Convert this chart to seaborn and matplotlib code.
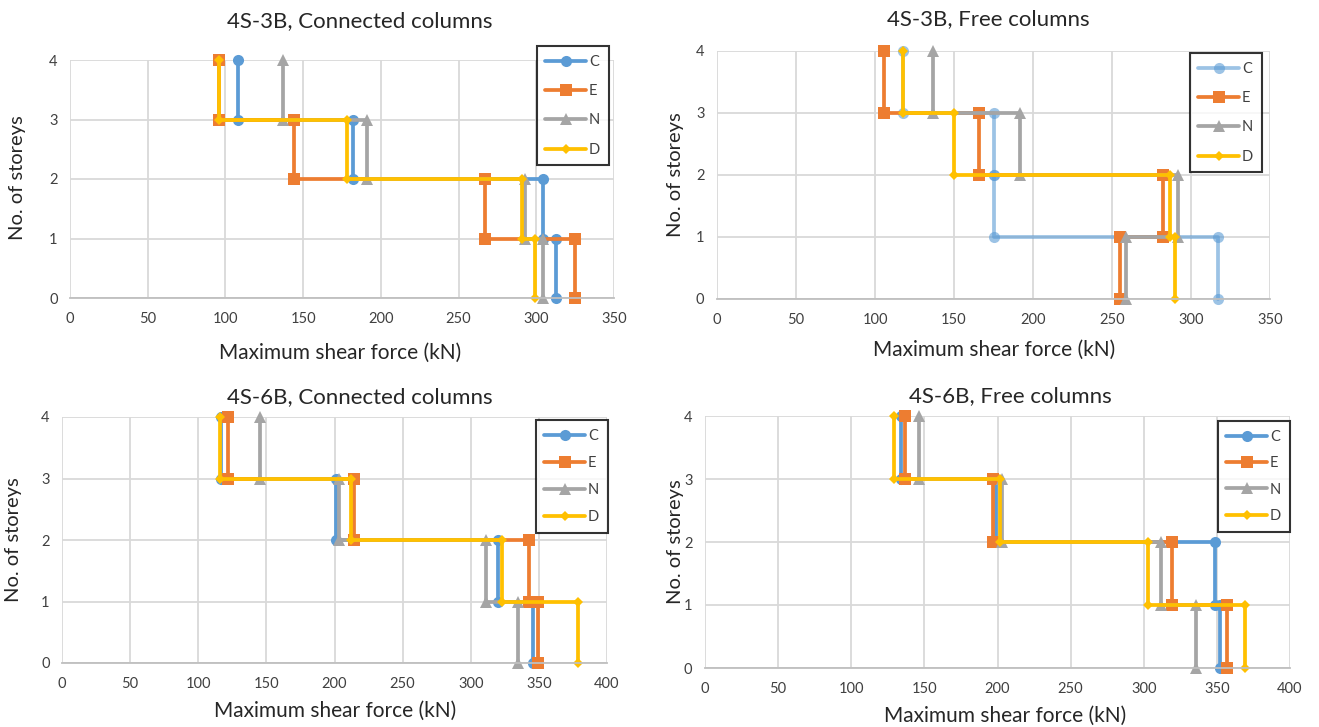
import matplotlib
matplotlib.use("Agg")
import matplotlib.pyplot as plt
import seaborn as sns
import pandas as pd

# Maximum shear force (kN) per storey, listed from storey 4 down to storey 1
series_names = ["C", "E", "N", "D"]

conn_3b = {"C": [108, 182, 304, 313],
           "E": [96, 144, 267, 325],
           "N": [137, 191, 293, 304],
           "D": [96, 178, 291, 299]}

free_3b = {"C": [118, 175, 175, 317],
           "E": [106, 166, 282, 255],
           "N": [137, 192, 292, 259],
           "D": [118, 150, 287, 290]}

conn_6b = {"C": [117, 201, 320, 346],
           "E": [122, 214, 343, 349],
           "N": [145, 203, 311, 335],
           "D": [116, 212, 323, 379]}

free_6b = {"C": [134, 199, 349, 352],
           "E": [137, 197, 319, 357],
           "N": [146, 203, 312, 336],
           "D": [129, 202, 303, 369]}

titles = ["4S-3B, Connected columns", "4S-3B, Free columns",
          "4S-6B, Connected columns", "4S-6B, Free columns"]
storeys = [4, 3, 2, 1]

colors = {"C": "#5B9BD5", "E": "#ED7D31", "N": "#A5A5A5", "D": "#FFC000"}
markers = {"C": "o", "E": "s", "N": "^", "D": "D"}
msizes = {"C": 8, "E": 8, "N": 8.5, "D": 5.5}

sns.set_theme(style="white")
plt.rcParams["font.family"] = ["Lato", "DejaVu Sans"]

W, H = 1319, 727
fig = plt.figure(figsize=(W / 100, H / 100), dpi=100)


def px_axes(left, right, top, bottom):
    return fig.add_axes([left / W, 1 - bottom / H, (right - left) / W, (bottom - top) / H])


def step_frame(values):
    xs, ys = [], []
    for v, s in zip(values, storeys):
        xs += [v, v]
        ys += [s, s - 1]
    return pd.DataFrame({"force": xs, "storey": ys})


panels = [
    dict(data=conn_3b, box=(70, 614, 60, 298), xmax=350, title_xy=(360, 21),
         xlabel_xy=(340, 353), ylabel_xy=(18, 178), legend=(609, 46), c_alpha=1.0,
         spacing=1.05),
    dict(data=free_3b, box=(717, 1270, 51, 299), xmax=350, title_xy=(988, 19),
         xlabel_xy=(994, 350), ylabel_xy=(676, 175), legend=(1262, 53), c_alpha=0.6,
         spacing=1.05),
    dict(data=conn_6b, box=(62, 607, 417, 663), xmax=400, title_xy=(360, 397),
         xlabel_xy=(335, 711), ylabel_xy=(14, 540), legend=(608, 420), c_alpha=1.0,
         spacing=0.9),
    dict(data=free_6b, box=(705, 1290, 416, 668), xmax=400, title_xy=(1010, 396),
         xlabel_xy=(1005, 716), ylabel_xy=(676, 542), legend=(1290, 421), c_alpha=1.0,
         spacing=0.85),
]

for p, title in zip(panels, titles):
    ax = px_axes(*p["box"])
    for name in series_names:
        df = step_frame(p["data"][name])
        alpha = p["c_alpha"] if name == "C" else 1.0
        sns.lineplot(data=df, x="force", y="storey", sort=False, estimator=None,
                     color=colors[name], marker=markers[name], markersize=msizes[name],
                     markeredgewidth=0, linewidth=2.7, alpha=alpha, label=name, ax=ax,
                     clip_on=False)
    ax.set_xlim(0, p["xmax"])
    ax.set_ylim(0, 4)
    ax.set_xticks(range(0, p["xmax"] + 1, 50))
    ax.set_yticks(range(0, 5))
    ax.grid(True, color="#D9D9D9", linewidth=1.3)
    ax.set_axisbelow(True)
    for side in ["top", "right", "left"]:
        ax.spines[side].set_visible(False)
    ax.spines["bottom"].set_color("#BFBFBF")
    ax.spines["bottom"].set_linewidth(1.3)
    ax.tick_params(axis="both", labelsize=10.5, colors="#404040", length=0, pad=9)
    ax.tick_params(axis="x", pad=10)
    ax.set_xlabel("")
    ax.set_ylabel("")

    fig.text(p["title_xy"][0] / W, 1 - p["title_xy"][1] / H, title, ha="center",
             va="center", fontsize=16, color="#262626")
    fig.text(p["xlabel_xy"][0] / W, 1 - p["xlabel_xy"][1] / H, "Maximum shear force (kN)",
             ha="center", va="center", fontsize=15, color="#262626")
    fig.text(p["ylabel_xy"][0] / W, 1 - p["ylabel_xy"][1] / H, "No. of storeys",
             ha="center", va="center", rotation=90, fontsize=14.5, color="#262626")

    leg = ax.legend(loc="upper right", bbox_to_anchor=(p["legend"][0] / W, 1 - p["legend"][1] / H),
                    bbox_transform=fig.transFigure, frameon=True, fancybox=False,
                    edgecolor="black", fontsize=10.5, handlelength=2.8,
                    labelspacing=p["spacing"], borderpad=0.6, handletextpad=0.2,
                    borderaxespad=0, numpoints=1)
    leg.get_frame().set_linewidth(1.5)
    for t in leg.get_texts():
        t.set_color("#404040")

fig.savefig("out.png", dpi=100, facecolor="white")
